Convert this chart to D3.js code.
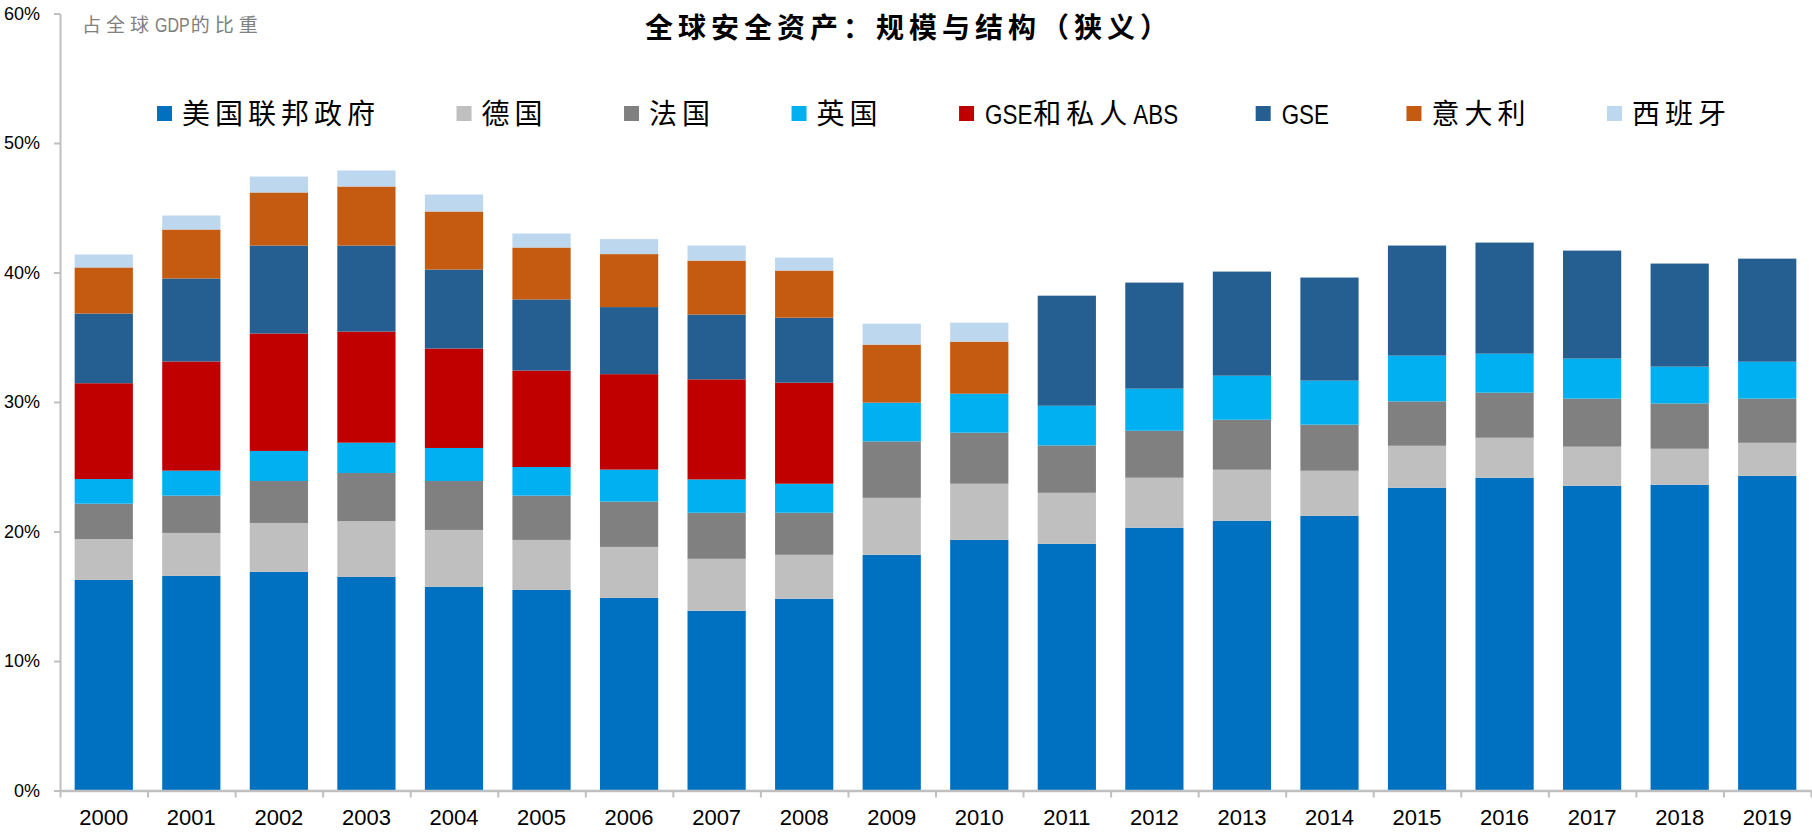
<!DOCTYPE html>
<html><head><meta charset="utf-8">
<script src="https://cdn.jsdelivr.net/npm/d3@7/dist/d3.min.js"></script>
<style>body{margin:0;background:#fff}svg{display:block}</style>
</head><body><svg id="c" width="1812" height="834"></svg>
<script>
const years = ["2000","2001","2002","2003","2004","2005","2006","2007","2008","2009","2010","2011","2012","2013","2014","2015","2016","2017","2018","2019"];
const seriesNames = ["美国联邦政府","德国","法国","英国","GSE和私人ABS","GSE","意大利","西班牙"];
const usFederal = [16.26,16.57,16.88,16.49,15.72,15.49,14.87,13.87,14.80,18.20,19.36,19.05,20.29,20.83,21.21,23.38,24.15,23.53,23.61,24.30];
const germany   = [3.16,3.32,3.78,4.32,4.40,3.86,3.94,4.02,3.40,4.40,4.33,3.94,3.86,3.94,3.48,3.24,3.09,3.02,2.78,2.55];
const france    = [2.73,2.88,3.24,3.71,3.78,3.42,3.50,3.56,3.25,4.36,3.94,3.66,3.63,3.86,3.56,3.43,3.48,3.71,3.50,3.41];
const uk        = [1.90,1.93,2.32,2.34,2.55,2.21,2.47,2.57,2.24,2.99,3.01,3.06,3.25,3.40,3.40,3.53,3.01,3.09,2.84,2.85];
const gseAbs    = [7.40,8.43,9.07,8.58,7.68,7.45,7.37,7.73,7.80,0,0,0,0,0,0,0,0,0,0,0];
const gse       = [5.38,6.41,6.79,6.64,6.10,5.49,5.18,5.00,5.02,0,0,8.50,8.19,8.04,7.96,8.50,8.58,8.34,7.96,7.96];
const italy     = [3.56,3.78,4.10,4.56,4.48,4.01,4.09,4.17,3.64,4.48,4.02,0,0,0,0,0,0,0,0,0];
const spain     = [1.00,1.08,1.23,1.24,1.31,1.08,1.16,1.16,1.00,1.62,1.47,0,0,0,0,0,0,0,0,0];
const yTicks = [0,10,20,30,40,50,60];
const titleText = "全球安全资产：规模与结构（狭义）";
const subtitleText = "占全球GDP的比重";

const colors = ["#0070C0","#BFBFBF","#808080","#00B0F0","#C00000","#255E91","#C55A11","#BDD7EE"];
const seriesValues = [usFederal,germany,france,uk,gseAbs,gse,italy,spain];
const table = years.map((yr,i)=>{const r={year:yr}; seriesNames.forEach((s,k)=>r[s]=seriesValues[k][i]); return r;});

const CJK = "'Noto Sans CJK SC','Noto Sans CJK JP',sans-serif";
const SANS = "'Liberation Sans',Arial,sans-serif";

const svg = d3.select("#c");
const x = d3.scaleBand().domain(years).range([60,1811]).paddingInner(0.335).paddingOuter(0.1675);
const y = d3.scaleLinear().domain([0,60]).range([790.5,13.5]);

const stack = d3.stack().keys(seriesNames)(table);

svg.append("g").selectAll("g").data(stack).join("g")
  .attr("fill",(d,i)=>colors[i])
  .selectAll("rect").data(d=>d).join("rect")
  .attr("x",d=>x(d.data.year))
  .attr("y",d=>y(d[1]))
  .attr("width",x.bandwidth())
  .attr("height",d=>Math.max(0,y(d[0])-y(d[1])));

// y axis
const ya = svg.append("g").attr("transform","translate(60,0)")
  .call(d3.axisLeft(y).tickValues(yTicks).tickFormat(d=>d+"%").tickSize(6).tickSizeOuter(0).tickPadding(14));
ya.select(".domain").attr("stroke","#BFBFBF").attr("stroke-width",2);
ya.selectAll(".tick line").attr("stroke","#BFBFBF").attr("stroke-width",2);
ya.selectAll(".tick text").attr("font-family",SANS).attr("font-size",18).attr("fill","#000");

// x axis: boundary ticks
const xi = d3.scaleLinear().domain([0,years.length]).range(x.range());
const xt = svg.append("g").attr("transform","translate(0,790.5)")
  .call(d3.axisBottom(xi).tickValues(d3.range(0,years.length+1)).tickFormat("").tickSize(7).tickSizeOuter(0));
xt.select(".domain").attr("stroke","#BFBFBF").attr("stroke-width",2.5);
xt.selectAll(".tick line").attr("stroke","#BFBFBF").attr("stroke-width",2);
const xl = svg.append("g").attr("transform","translate(0,790.5)")
  .call(d3.axisBottom(x).tickSize(0).tickPadding(19));
xl.select(".domain").remove();
xl.selectAll(".tick text").attr("font-family",SANS).attr("font-size",22).attr("fill","#000");

// mixed text helper: CJK runs spaced, Latin runs horizontally condensed; returns width
function mixed(parent, str, x0, y0, cjkSize, latSize, ls, opts){
  opts = opts || {};
  const g = parent.append("g").attr("fill", opts.fill || "#000");
  if(opts.weight) g.attr("font-weight", opts.weight);
  const parts = str.split(/([\x00-\x7F]+)/).filter(s=>s.length);
  let cx = x0;
  parts.forEach(p=>{
    const lat = /^[\x00-\x7F]+$/.test(p);
    if(lat){
      const t = g.append("text").text(p)
        .attr("font-family",SANS).attr("font-size",latSize)
        .attr("transform",`translate(${cx+1},${y0}) scale(0.8,1)`);
      cx += t.node().getComputedTextLength()*0.8 + 2;
    } else {
      const t = g.append("text").text(p).attr("x",cx).attr("y",y0)
        .attr("font-family",CJK).attr("font-size",cjkSize).attr("letter-spacing",ls);
      cx += t.node().getComputedTextLength();
    }
  });
  return cx - x0;
}

// title
mixed(svg, titleText, 645, 38, 28, 28, 5, {weight:700});

// subtitle
mixed(svg, subtitleText, 82, 32, 19, 20, 5, {fill:"#808080"});

// legend
let lx = 157;
const lg = svg.append("g");
seriesNames.forEach((s,i)=>{
  lg.append("rect").attr("x",lx).attr("y",106).attr("width",15).attr("height",15).attr("fill",colors[i]);
  const w = mixed(lg, s, lx+25, 124, 28, 28, 5);
  lx = lx + 25 + w + 76.5;
});
</script></body></html>
